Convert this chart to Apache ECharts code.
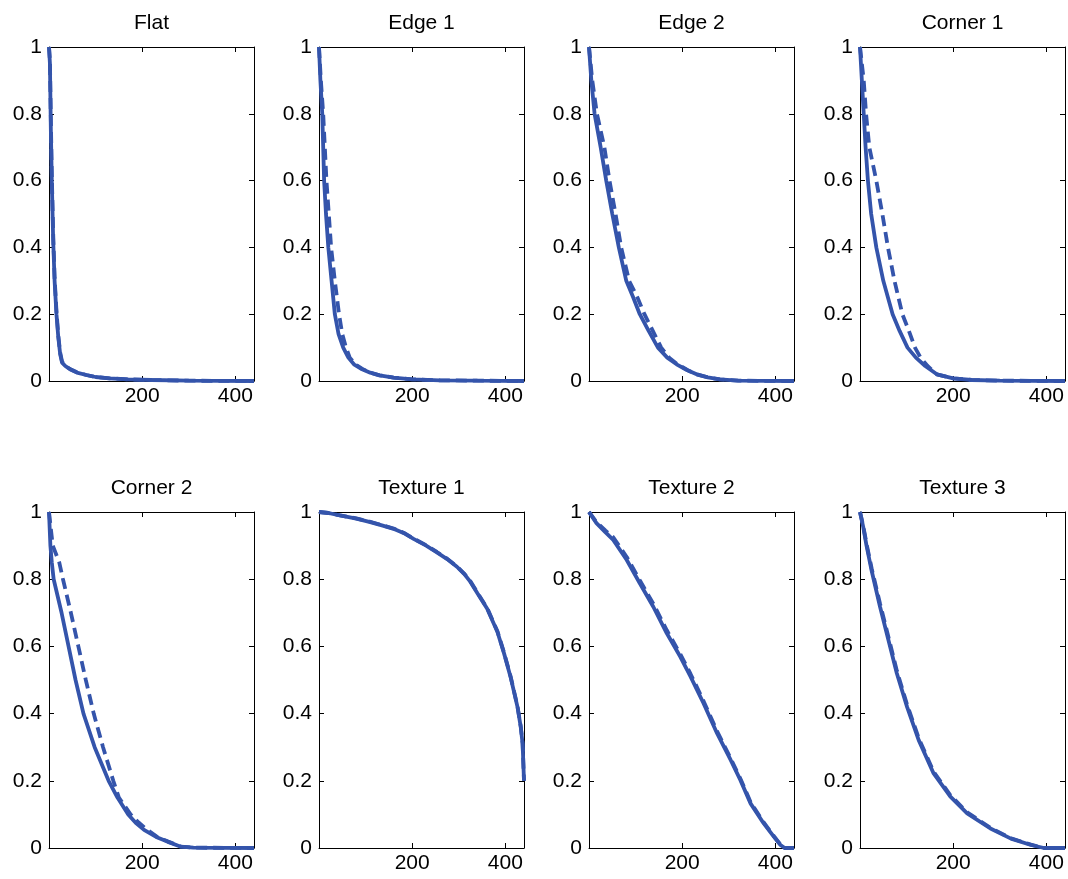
<!DOCTYPE html>
<html>
<head>
<meta charset="utf-8">
<script src="https://cdn.jsdelivr.net/npm/echarts@6/dist/echarts.min.js"></script>
<style>
  html, body { margin: 0; padding: 0; background: #fff; }
  #main { width: 1068px; height: 879px; }
</style>
</head>
<body>
<div id="main"></div>
<script>
const titles = ['Flat', 'Edge 1', 'Edge 2', 'Corner 1', 'Corner 2', 'Texture 1', 'Texture 2', 'Texture 3']
const xTicks = [200, 400]

// Flat (read at x positions)
const flatX = [0, 2, 4, 6, 9, 12, 16, 20, 24, 28, 35, 45, 60, 80, 100, 130, 170, 220, 300, 440]
const flatSolid = [1, 0.95, 0.75, 0.6, 0.42, 0.3, 0.2, 0.13, 0.08, 0.055, 0.045, 0.035, 0.025, 0.018, 0.012, 0.008, 0.005, 0.003, 0.001, 0]
const flatDash = [1, 0.96, 0.78, 0.62, 0.44, 0.31, 0.21, 0.135, 0.085, 0.058, 0.046, 0.036, 0.026, 0.018, 0.012, 0.008, 0.005, 0.003, 0.001, 0]

// Edge 1 (read at y levels)
const edge1Y = [1, 0.9, 0.8, 0.6, 0.5, 0.4, 0.3, 0.2, 0.14, 0.1, 0.07, 0.05, 0.037, 0.025, 0.017, 0.01, 0.005, 0.002, 0.001, 0]
const edge1SolidX = [0, 3, 7, 11, 15, 20, 27, 34, 42, 52, 63, 75, 90, 110, 130, 160, 200, 260, 340, 440]
const edge1DashX = [0, 4, 9, 16, 21, 26, 34, 43, 50, 58, 66, 78, 92, 110, 130, 160, 200, 260, 340, 440]

// Edge 2
const edge2Y = [1, 0.9, 0.8, 0.7, 0.6, 0.5, 0.4, 0.3, 0.25, 0.2, 0.15, 0.1, 0.07, 0.05, 0.033, 0.02, 0.011, 0.005, 0.001, 0]
const edge2SolidX = [0, 5, 12, 25, 37, 50, 64, 80, 95, 109, 128, 148, 168, 188, 210, 231, 255, 281, 320, 440]
const edge2DashX = [0, 7, 17, 33, 44, 57, 69, 86, 104, 119, 137, 155, 172, 190, 211, 231, 255, 281, 320, 440]

// Corner 1
const corner1Y = [1, 0.9, 0.8, 0.7, 0.6, 0.5, 0.4, 0.3, 0.2, 0.15, 0.1, 0.07, 0.045, 0.02, 0.008, 0.003, 0.001, 0]
const corner1SolidX = [0, 4, 8, 12, 17, 24, 35, 50, 70, 85, 102, 120, 140, 165, 200, 240, 300, 440]
const corner1DashX = [0, 8, 13, 20, 35, 48, 60, 74, 91, 105, 118, 130, 145, 165, 200, 240, 300, 440]

// Corner 2
const corner2Y = [1, 0.9, 0.85, 0.8, 0.7, 0.6, 0.5, 0.4, 0.3, 0.2, 0.15, 0.1, 0.075, 0.054, 0.033, 0.019, 0.004, 0.001, 0]
const corner2SolidX = [0, 3, 6, 10, 27, 42, 57, 74, 98, 128, 147, 170, 186, 204, 230, 254, 283, 310, 440]
const corner2DashX = [0, 8, 22, 30, 47, 63, 79, 96, 116, 138, 150, 175, 193, 211, 232, 256, 283, 310, 440]

// Texture 1 (read at x positions)
const tex1X = [0, 20, 45, 80, 110, 135, 160, 185, 203, 230, 253, 275, 296, 312, 325, 340, 361, 383, 397, 411, 426, 433, 437, 440]
const tex1Solid = [1, 0.997, 0.99, 0.98, 0.97, 0.96, 0.95, 0.935, 0.92, 0.9, 0.88, 0.86, 0.837, 0.815, 0.792, 0.758, 0.712, 0.643, 0.58, 0.51, 0.42, 0.36, 0.31, 0.2]
const tex1Dash = [1, 0.997, 0.99, 0.981, 0.971, 0.961, 0.951, 0.936, 0.921, 0.901, 0.881, 0.861, 0.838, 0.816, 0.794, 0.76, 0.714, 0.645, 0.582, 0.512, 0.422, 0.362, 0.312, 0.2]

// Texture 2
const tex2X = [0, 16, 35, 52, 81, 109, 138, 167, 196, 218, 246, 275, 304, 325, 347, 375, 397, 411, 420, 440]
const tex2Solid = [1, 0.967, 0.94, 0.917, 0.857, 0.788, 0.718, 0.639, 0.569, 0.51, 0.43, 0.341, 0.262, 0.202, 0.132, 0.073, 0.033, 0.009, 0, 0]
const tex2Dash = [1, 0.97, 0.945, 0.925, 0.866, 0.797, 0.727, 0.648, 0.577, 0.518, 0.437, 0.347, 0.267, 0.206, 0.136, 0.076, 0.035, 0.01, 0, 0]

// Texture 3
const tex3X = [0, 7, 14, 25, 43, 61, 79, 101, 126, 158, 194, 230, 280, 324, 367, 395, 440]
const tex3Solid = [1, 0.955, 0.9, 0.825, 0.718, 0.619, 0.52, 0.42, 0.321, 0.222, 0.153, 0.103, 0.058, 0.028, 0.009, 0, 0]
const tex3Dash = [1, 0.958, 0.906, 0.832, 0.727, 0.628, 0.528, 0.427, 0.327, 0.227, 0.157, 0.106, 0.06, 0.029, 0.01, 0, 0]

const zip = (xs, ys) => xs.map((x, i) => [x, ys[i]])

const panels = [
  [zip(flatX, flatSolid), zip(flatX, flatDash)],
  [zip(edge1SolidX, edge1Y), zip(edge1DashX, edge1Y)],
  [zip(edge2SolidX, edge2Y), zip(edge2DashX, edge2Y)],
  [zip(corner1SolidX, corner1Y), zip(corner1DashX, corner1Y)],
  [zip(corner2SolidX, corner2Y), zip(corner2DashX, corner2Y)],
  [zip(tex1X, tex1Solid), zip(tex1X, tex1Dash)],
  [zip(tex2X, tex2Solid), zip(tex2X, tex2Dash)],
  [zip(tex3X, tex3Solid), zip(tex3X, tex3Dash)]
]

const font = "'Liberation Sans', Arial, Helvetica, sans-serif"
const blue = '#3454ab'
const lefts = [49, 319, 589, 860]
const tops = [47, 512]
const heights = [334, 336]

const grid = [], xAxis = [], yAxis = [], series = []
const black = { color: '#000', width: 1 }

panels.forEach((p, i) => {
  const row = Math.floor(i / 4)
  grid.push({ left: lefts[i % 4], top: tops[row], width: 205, height: heights[row] })
  const tick = { show: true, inside: true, length: 5, lineStyle: black }
  // bottom x axis with labels
  xAxis.push({
    type: 'value', gridIndex: i, min: 0, max: 440, interval: 200, position: 'bottom',
    axisLine: { onZero: false, lineStyle: black }, axisTick: tick, splitLine: { show: false },
    axisLabel: {
      color: '#000', fontSize: 21, fontFamily: font, margin: 5,
      formatter: v => xTicks.includes(v) ? String(v) : ''
    }
  })
  // top x axis (box + title)
  xAxis.push({
    type: 'value', gridIndex: i, min: 0, max: 440, interval: 200, position: 'top',
    name: titles[i], nameLocation: 'middle', nameGap: 13,
    nameTextStyle: { color: '#000', fontSize: 21, fontFamily: font },
    axisLine: { onZero: false, lineStyle: black }, axisTick: tick, splitLine: { show: false },
    axisLabel: { show: false }
  })
  yAxis.push({
    type: 'value', gridIndex: i, min: 0, max: 1, interval: 0.2, position: 'left',
    axisLine: { show: true, onZero: false, lineStyle: black }, axisTick: tick, splitLine: { show: false },
    axisLabel: { color: '#000', fontSize: 21, fontFamily: font, margin: 7 }
  })
  yAxis.push({
    type: 'value', gridIndex: i, min: 0, max: 1, interval: 0.2, position: 'right',
    axisLine: { show: true, onZero: false, lineStyle: black }, axisTick: tick, splitLine: { show: false },
    axisLabel: { show: false }
  })
  series.push({
    type: 'line', xAxisIndex: 2 * i, yAxisIndex: 2 * i, data: p[0],
    showSymbol: false, animation: false,
    lineStyle: { color: blue, width: 3.8 }
  })
  series.push({
    type: 'line', xAxisIndex: 2 * i, yAxisIndex: 2 * i, data: p[1],
    showSymbol: false, animation: false,
    lineStyle: { color: blue, width: 3.8, type: [11, 6] }
  })
})

const myChart = echarts.init(document.getElementById('main'))
myChart.setOption({ animation: false, grid, xAxis, yAxis, series })
</script>
</body>
</html>
